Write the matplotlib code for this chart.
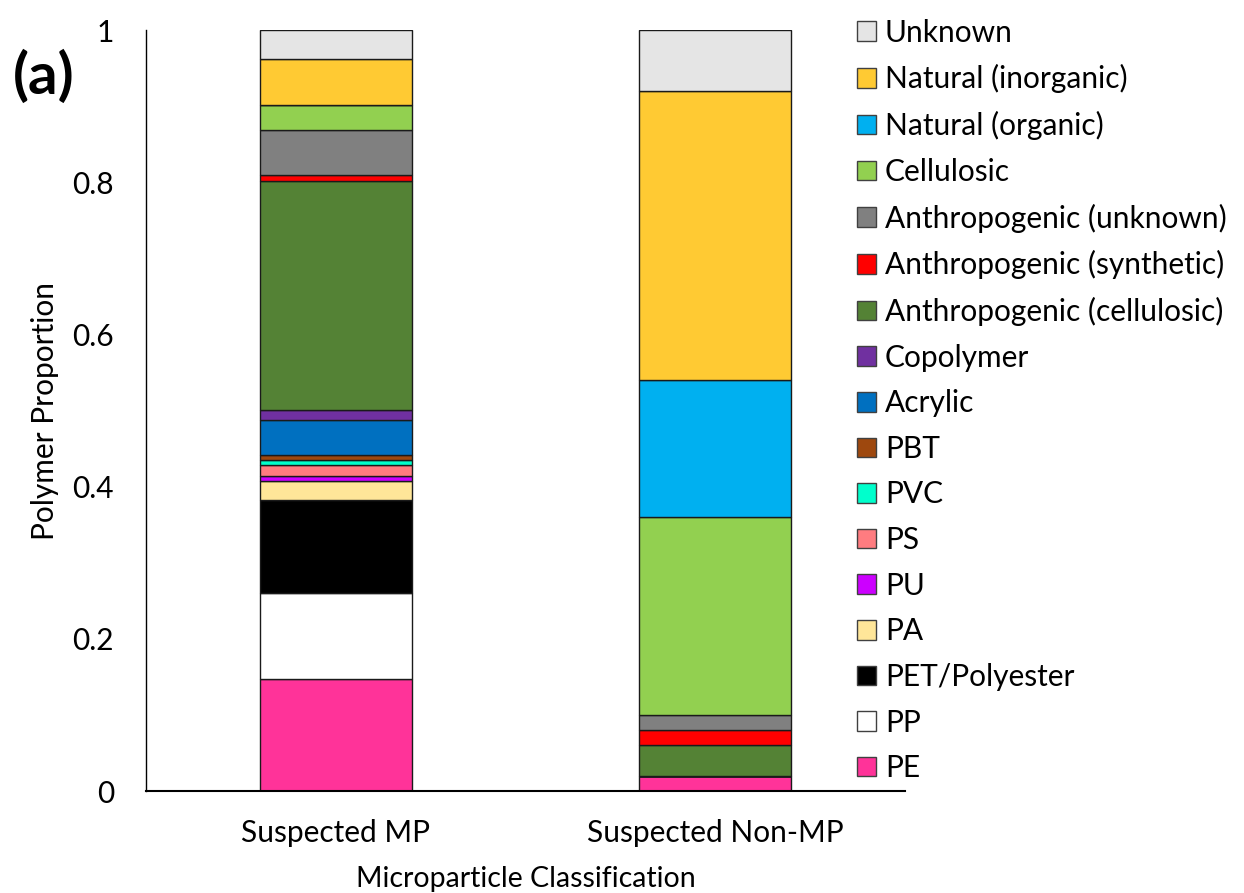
import matplotlib
matplotlib.use("Agg")
import matplotlib.pyplot as plt
from matplotlib.patches import Patch
import numpy as np

plt.rcParams['font.family'] = ['Lato', 'DejaVu Sans']

categories = ["Suspected MP", "Suspected Non-MP"]
series_names = ["PE", "PP", "PET/Polyester", "PA", "PU", "PS", "PVC", "PBT",
                "Acrylic", "Copolymer", "Anthropogenic (cellulosic)",
                "Anthropogenic (synthetic)", "Anthropogenic (unknown)",
                "Cellulosic", "Natural (organic)", "Natural (inorganic)", "Unknown"]
mp_values = [0.147, 0.113, 0.122, 0.025, 0.007, 0.014, 0.007, 0.007,
             0.046, 0.013, 0.301, 0.007, 0.060, 0.033, 0.0, 0.060, 0.038]
nonmp_values = [0.02, 0.0, 0.0, 0.0, 0.0, 0.0, 0.0, 0.0,
                0.0, 0.0, 0.04, 0.02, 0.02, 0.26, 0.18, 0.38, 0.08]
colors = ["#FF3399", "#FFFFFF", "#000000", "#FFE699", "#CC00FF", "#FF7C80",
          "#00FFCC", "#9E480E", "#0070C0", "#7030A0", "#548235", "#FF0000",
          "#808080", "#92D050", "#00B0F0", "#FFCA33", "#E5E5E5"]
yticks = [0, 0.2, 0.4, 0.6, 0.8, 1.0]
ytick_labels = ["0", "0.2", "0.4", "0.6", "0.8", "1"]

FS = 21.5

fig = plt.figure(figsize=(12.44, 8.93), dpi=100)
ax = fig.add_axes([0.1174, 0.1142, 0.6101, 0.8522])

x = np.arange(len(categories))
bottom = np.zeros(len(categories))
handles = []
for name, v1, v2, c in zip(series_names, mp_values, nonmp_values, colors):
    vals = np.array([v1, v2])
    ax.bar(x, vals, width=0.4, bottom=bottom, color=c, edgecolor="#1a1a1a",
           linewidth=1.0, label=name)
    bottom += vals
    handles.append(Patch(facecolor=c, edgecolor="#404040", linewidth=1.0, label=name))

ax.set_xlim(-0.5, 1.5)
ax.set_ylim(0, 1)
ax.set_yticks(yticks)
ax.set_yticklabels(ytick_labels)
ax.set_xticks(x)
ax.set_xticklabels(categories)
ax.tick_params(axis='both', length=0, labelsize=FS)
ax.tick_params(axis='y', pad=23)
ax.tick_params(axis='x', pad=20)
for s in ["top", "right"]:
    ax.spines[s].set_visible(False)
ax.spines["left"].set_color("#000000")
ax.spines["bottom"].set_color("#000000")
ax.spines["left"].set_linewidth(1.0)
ax.spines["bottom"].set_linewidth(1.5)
ax.set_ylabel("Polymer Proportion", fontsize=FS, labelpad=10)
ax.set_xlabel("Microparticle Classification", fontsize=20.5, labelpad=14)

fig.legend(handles=handles[::-1], loc="upper left",
           bbox_to_anchor=(857 / 1244, 0.979), frameon=False, fontsize=FS,
           handlelength=0.63, handleheight=0.63, handletextpad=0.3,
           labelspacing=0.59, borderpad=0, borderaxespad=0)

fig.text(0.010, 1 - 77 / 893, "(a)", fontsize=42, fontweight="bold", va="center", ha="left")

fig.savefig("out.png", dpi=100)
